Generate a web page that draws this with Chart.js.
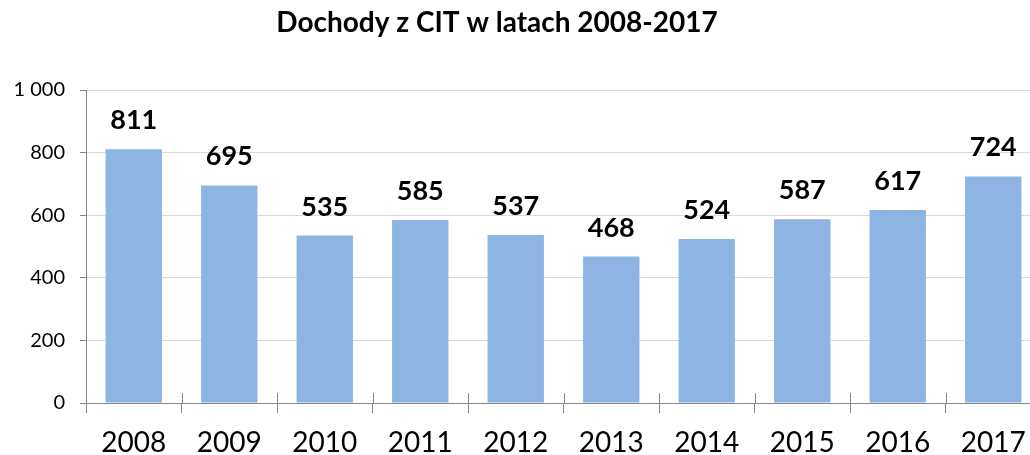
<!DOCTYPE html>
<html lang="pl">
<head>
    <meta charset="UTF-8">
    <title>Dochody z CIT w latach 2008-2017</title>
    <script src="https://cdn.jsdelivr.net/npm/chart.js"></script>
    <style>
        body {
            margin: 0;
            padding: 0;
            background: #ffffff;
            overflow: hidden;
        }
        .wrap {
            width: 1041px;
            height: 455px;
        }
    </style>
</head>
<body>
    <div class="wrap">
        <canvas id="citChart"></canvas>
    </div>
    <script>
        const years = ['2008', '2009', '2010', '2011', '2012', '2013', '2014', '2015', '2016', '2017'];
        const income = [811, 695, 535, 585, 537, 468, 524, 587, 617, 724];
        const chartTitle = 'Dochody z CIT w latach 2008-2017';

        const fontFamily = 'Lato, "Open Sans", sans-serif';

        // title, value labels and the small tick marks that cross the x axis
        const extras = {
            id: 'extras',
            afterDatasetsDraw(chart) {
                const ctx = chart.ctx;
                const meta = chart.getDatasetMeta(0);
                ctx.save();
                ctx.fillStyle = '#000000';
                ctx.font = 'bold 27px ' + fontFamily;
                ctx.textAlign = 'center';
                ctx.textBaseline = 'alphabetic';
                meta.data.forEach((bar, i) => {
                    ctx.fillText(income[i], bar.x, bar.y - 20);
                });
                ctx.restore();
            },
            afterDraw(chart) {
                const ctx = chart.ctx;
                const x = chart.scales.x;
                const area = chart.chartArea;
                ctx.save();
                ctx.strokeStyle = '#868686';
                ctx.lineWidth = 1;
                for (let i = 1; i < years.length; i++) {
                    const px = Math.round((x.getPixelForValue(i - 1) + x.getPixelForValue(i)) / 2) + 0.5;
                    ctx.beginPath();
                    ctx.moveTo(px, area.bottom - 10);
                    ctx.lineTo(px, area.bottom);
                    ctx.stroke();
                }
                ctx.fillStyle = '#000000';
                ctx.font = 'bold 28px ' + fontFamily;
                ctx.textAlign = 'center';
                ctx.textBaseline = 'middle';
                ctx.fillText(chartTitle, 497, 23);
                ctx.restore();
            }
        };

        new Chart(document.getElementById('citChart'), {
            type: 'bar',
            data: {
                labels: years,
                datasets: [{
                    data: income,
                    backgroundColor: '#8EB4E3',
                    borderWidth: 0,
                    barPercentage: 0.59,
                    categoryPercentage: 1.0
                }]
            },
            options: {
                responsive: true,
                maintainAspectRatio: false,
                animation: false,
                layout: {
                    padding: { top: 90, right: 0, left: 0, bottom: 0 }
                },
                plugins: {
                    legend: { display: false },
                    title: { display: false },
                    tooltip: { enabled: false }
                },
                scales: {
                    x: {
                        offset: true,
                        afterFit(scale) {
                            scale.height = 52;
                            scale.paddingLeft = 0;
                            scale.paddingRight = 0;
                        },
                        grid: {
                            display: true,
                            offset: true,
                            drawOnChartArea: false,
                            drawTicks: true,
                            tickLength: 10,
                            color: '#868686'
                        },
                        border: { color: '#868686', width: 1 },
                        ticks: {
                            color: '#000000',
                            padding: 13,
                            font: { family: fontFamily, size: 28 }
                        }
                    },
                    y: {
                        min: 0,
                        max: 1000,
                        afterFit(scale) { scale.width = 86; },
                        grid: {
                            color: '#d9d9d9',
                            tickLength: 6,
                            tickColor: '#868686'
                        },
                        border: { color: '#868686', width: 1 },
                        ticks: {
                            stepSize: 200,
                            color: '#000000',
                            padding: 15,
                            font: { family: fontFamily, size: 20 },
                            callback: (v) => String(v).replace(/\B(?=(\d{3})+(?!\d))/g, ' ')
                        }
                    }
                }
            },
            plugins: [extras]
        });
    </script>
</body>
</html>
